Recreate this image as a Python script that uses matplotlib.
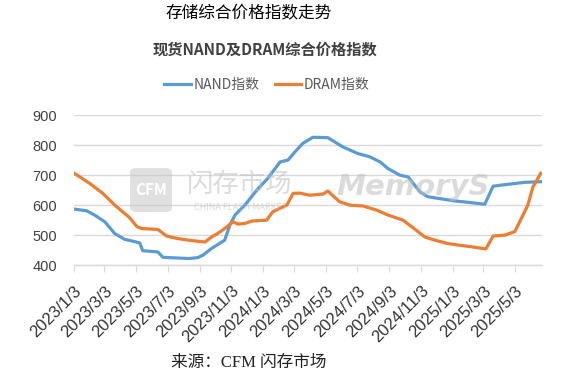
import matplotlib
matplotlib.use("Agg")
import matplotlib.pyplot as plt
from matplotlib.patches import FancyBboxPatch
import pandas as pd

plt.rcParams['font.family'] = ['Noto Sans CJK SC', 'DejaVu Sans']

nand_dates = ["2023-01-03", "2023-01-28", "2023-02-12", "2023-03-04", "2023-03-23",
              "2023-04-11", "2023-05-01", "2023-05-10", "2023-05-16", "2023-06-14",
              "2023-06-24", "2023-08-13", "2023-08-30", "2023-09-09", "2023-09-26",
              "2023-10-21", "2023-10-31", "2023-11-10", "2023-11-29", "2023-12-22",
              "2024-01-12", "2024-02-05", "2024-02-20", "2024-03-05", "2024-03-20",
              "2024-04-08", "2024-05-07", "2024-06-05", "2024-07-04", "2024-07-27",
              "2024-08-16", "2024-08-31", "2024-09-23", "2024-10-09", "2024-11-01",
              "2024-11-16", "2024-12-19", "2025-01-07", "2025-02-09", "2025-03-06",
              "2025-03-22", "2025-04-08", "2025-05-03", "2025-05-22", "2025-06-22"]
nand_values = [587, 581, 567, 544, 505,
               486, 478, 474, 448, 444,
               426, 422, 425, 433, 456,
               483, 533, 567, 600, 650,
               689, 744, 750, 778, 806,
               826, 825, 794, 772, 761,
               744, 722, 700, 694, 644,
               628, 619, 614, 608, 603,
               663, 667, 672, 676, 678]

dram_dates = ["2023-01-03", "2023-02-03", "2023-02-28", "2023-03-23", "2023-04-11",
              "2023-04-19", "2023-05-05", "2023-05-14", "2023-06-14", "2023-07-01",
              "2023-07-21", "2023-08-13", "2023-09-13", "2023-09-26", "2023-10-08",
              "2023-10-21", "2023-11-06", "2023-11-16", "2023-11-29", "2023-12-13",
              "2024-01-10", "2024-01-22", "2024-02-08", "2024-02-18", "2024-03-01",
              "2024-03-14", "2024-04-02", "2024-04-28", "2024-05-07", "2024-05-30",
              "2024-06-19", "2024-07-14", "2024-08-10", "2024-08-31", "2024-09-29",
              "2024-10-22", "2024-11-10", "2024-11-30", "2024-12-25", "2025-01-13",
              "2025-02-09", "2025-03-08", "2025-03-22", "2025-04-14", "2025-05-03",
              "2025-05-17", "2025-05-28", "2025-06-07", "2025-06-22"]
dram_values = [707, 672, 639, 600, 572,
               561, 528, 522, 519, 497,
               489, 483, 477, 494, 506,
               522, 544, 537, 539, 547,
               550, 578, 592, 600, 639,
               640, 633, 637, 647, 611,
               600, 597, 583, 567, 550,
               520, 494, 483, 472, 467,
               461, 454, 497, 500, 512,
               561, 600, 661, 706]

tick_labels = ["2023/1/3", "2023/3/3", "2023/5/3", "2023/7/3", "2023/9/3", "2023/11/3",
               "2024/1/3", "2024/3/3", "2024/5/3", "2024/7/3", "2024/9/3", "2024/11/3",
               "2025/1/3", "2025/3/3", "2025/5/3"]
y_ticks = [400, 500, 600, 700, 800, 900]

nd = pd.to_datetime(nand_dates)
dd = pd.to_datetime(dram_dates)
td = pd.to_datetime(tick_labels, format="%Y/%m/%d")

fig = plt.figure(figsize=(5.77, 3.75), dpi=100)
ax = fig.add_axes([0.128, 0.293, 0.811, 0.400])

BLUE = "#5B9BD5"
ORANGE = "#ED7D31"
GRID = "#D9D9D9"

# watermark
wm = dict(transform=fig.transFigure, color="#BFBFBF", alpha=0.55, zorder=0)
box = FancyBboxPatch((130/577, 1-212/375), 42/577, 44/375,
                     boxstyle="round,pad=0.0,rounding_size=0.012",
                     transform=fig.transFigure, facecolor="#C8C8C8", edgecolor="none",
                     alpha=0.55, zorder=0)
fig.patches.append(box)
fig.text(151/577, 1-190/375, "CFM", ha="center", va="center", fontsize=11,
         color="white", fontweight="bold", style="italic", transform=fig.transFigure, zorder=1)
fig.text(240/577, 1-184/375, "闪存市场", ha="center", va="center", fontsize=19, **wm)
fig.text(240/577, 1-207/375, "CHINA FLASH MARKET", ha="center", va="center",
         fontsize=6.5, style="italic", **wm)
fig.text(413/577, 1-187/375, "MemoryS", ha="center", va="center", fontsize=21,
         fontweight="bold", style="italic", family="DejaVu Sans", **wm)

ax.plot(nd, nand_values, color=BLUE, lw=2.3, label="NAND指数", zorder=3,
        solid_joinstyle="round")
ax.plot(dd, dram_values, color=ORANGE, lw=2.3, label="DRAM指数", zorder=3,
        solid_joinstyle="round")

ax.set_ylim(400, 900)
ax.set_yticks(y_ticks)
ax.set_xlim(pd.Timestamp("2023-01-03"), pd.Timestamp("2025-06-24"))
ax.set_xticks(td)
ax.set_xticklabels(tick_labels, rotation=45, ha="right", va="top",
                   rotation_mode="anchor", fontsize=12, color="#333333",
                   family=["Liberation Sans", "DejaVu Sans"])
ax.tick_params(axis="x", length=5, color=GRID, pad=8)
ax.tick_params(axis="y", length=0, labelsize=10.5, labelcolor="#404040", pad=12)
for lab in ax.get_yticklabels():
    lab.set_family(["Liberation Sans", "DejaVu Sans"])
ax.grid(axis="y", color=GRID, lw=1)
ax.set_axisbelow(True)
for s in ["top", "right", "left"]:
    ax.spines[s].set_visible(False)
ax.spines["bottom"].set_color(GRID)
ax.spines["bottom"].set_linewidth(1)
ax.patch.set_alpha(0)

fig.text(249/577, 1-14/375, "存储综合价格指数走势", ha="center", va="center",
         fontsize=12, color="black")
fig.text(265/577, 1-50/375, "现货NAND及DRAM综合价格指数", ha="center", va="center",
         fontsize=11, fontweight="bold", color="#404040")
fig.legend(loc="center", bbox_to_anchor=(267/577, 1-85/375), ncol=2, frameon=False,
           fontsize=10, handlelength=1.9, columnspacing=1.1, handletextpad=0.2,
           labelcolor="#595959")
fig.text(249/577, 1-363/375, "来源：CFM 闪存市场", ha="center", va="center",
         fontsize=12, color="#222222", family=["Liberation Serif", "Noto Sans CJK SC"])

fig.savefig("out.png", dpi=100)
